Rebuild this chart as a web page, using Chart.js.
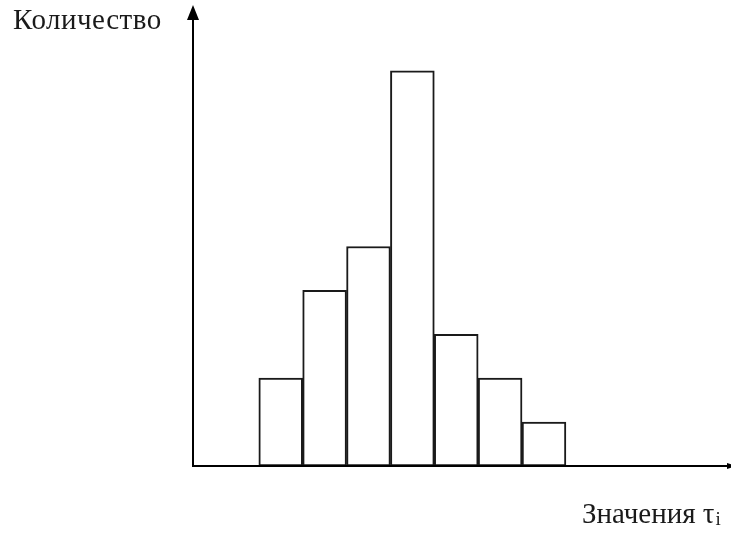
<!DOCTYPE html>
<html lang="ru">
<head>
<meta charset="UTF-8" />
<title>Гистограмма</title>
<script src="https://cdn.jsdelivr.net/npm/chart.js"></script>
<style>
  html, body { margin: 0; padding: 0; background: #fff; }
  #box { width: 731px; height: 533px; }
</style>
</head>
<body>
<div id="box"><canvas id="myCanvas" width="731" height="533"></canvas></div>
<script>
  // centres of the bins along the tau axis and how many values fell into each
  const binCentres = [2, 3, 4, 5, 6, 7, 8];
  const counts = [2, 4, 5, 9, 3, 2, 1];
  const yTitle = "Количество";
  const xTitle = "Значения τ";
  const xSub = "i";

  const points = binCentres.map((c, i) => ({ x: c, y: counts[i] }));

  // axes with arrowheads and the two captions
  const axesPlugin = {
    id: "axesArrows",
    afterDatasetsDraw(chart) {
      const ctx = chart.ctx;
      const a = chart.chartArea;
      const x0 = a.left, y0 = a.bottom;
      ctx.save();
      ctx.strokeStyle = "#000";
      ctx.fillStyle = "#000";
      ctx.lineWidth = 2;
      ctx.beginPath();
      ctx.moveTo(x0, y0 + 1);
      ctx.lineTo(x0, a.top + 10);
      ctx.moveTo(x0 - 1, y0);
      ctx.lineTo(chart.width, y0);
      ctx.stroke();
      // up arrow
      ctx.beginPath();
      ctx.moveTo(x0, a.top);
      ctx.lineTo(x0 - 6, a.top + 15);
      ctx.lineTo(x0 + 6, a.top + 15);
      ctx.closePath();
      ctx.fill();
      // right arrow, cut by the edge
      ctx.beginPath();
      ctx.moveTo(a.right + 6, y0);
      ctx.lineTo(a.right - 3, y0 - 3);
      ctx.lineTo(a.right - 3, y0 + 3);
      ctx.closePath();
      ctx.fill();

      ctx.fillStyle = "#1a1a1a";
      ctx.textBaseline = "alphabetic";
      ctx.textAlign = "left";
      ctx.letterSpacing = "0.5px";
      ctx.font = "29px 'Liberation Serif', 'Times New Roman', serif";
      ctx.fillText(yTitle, 13, 29);
      ctx.letterSpacing = "0px";
      const w = ctx.measureText(xTitle).width;
      const xs = 582;
      ctx.fillText(xTitle, xs, 523);
      ctx.font = "19px 'Liberation Serif', 'Times New Roman', serif";
      ctx.fillText(xSub, xs + w + 1, 525);
      ctx.restore();
    }
  };

  new Chart(document.getElementById("myCanvas"), {
    type: "bar",
    data: {
      datasets: [{
        data: points,
        backgroundColor: "#fff",
        borderColor: "#1a1a1a",
        borderWidth: 2,
        borderSkipped: false,
        barPercentage: 1,
        categoryPercentage: 1
      }]
    },
    options: {
      responsive: false,
      animation: false,
      layout: { padding: { left: 193, top: 5, right: 1, bottom: 67 } },
      scales: {
        x: { type: "linear", min: 0, max: 12.24, offset: false, display: false, ticks: { stepSize: 1 } },
        y: { min: 0, max: 10.5, display: false }
      },
      plugins: { legend: { display: false }, tooltip: { enabled: false } }
    },
    plugins: [axesPlugin]
  });
</script>
</body>
</html>
